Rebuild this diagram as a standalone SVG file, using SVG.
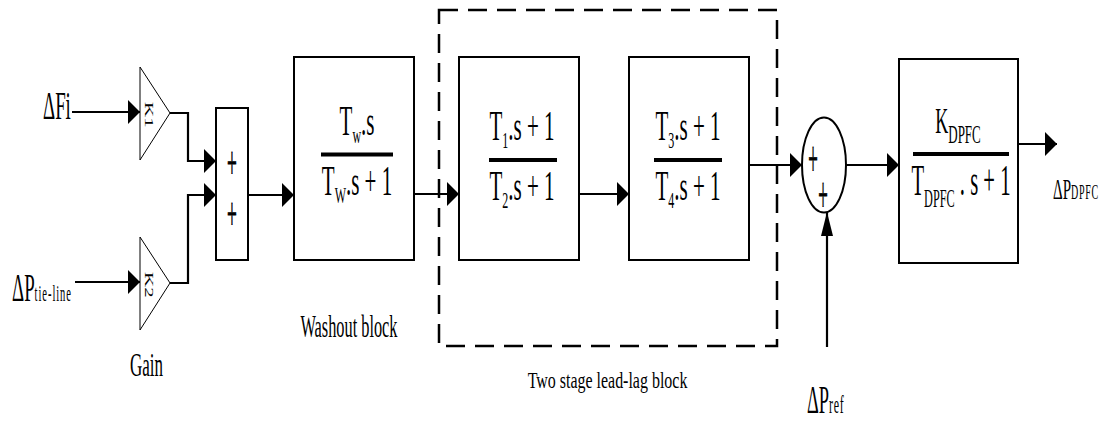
<svg xmlns="http://www.w3.org/2000/svg" width="1107" height="423" viewBox="0 0 1107 423">
  <style>
    .blk { fill: #fff; stroke: #000; stroke-width: 2; }
    .gain { fill: #fff; stroke: #000; stroke-width: 1; }
    .wire { fill: none; stroke: #000; stroke-width: 2.2; }
    .frame { fill: none; stroke: #000; stroke-width: 2.5; stroke-dasharray: 19 10; }
    .bar { fill: #000; }
    text { font-family: "Liberation Serif", "Times New Roman", serif; fill: #000; }
    .mid { text-anchor: middle; }
    .sign { text-anchor: middle; stroke: #000; stroke-width: 0.8; opacity: 0.99; }
  </style>
  <defs>
    <marker id="ah" markerUnits="userSpaceOnUse" markerWidth="12" markerHeight="24" refX="12" refY="12" orient="auto">
      <path d="M0,0 L12,12 L0,24 Z" fill="#000"/>
    </marker>
    <marker id="av" markerUnits="userSpaceOnUse" markerWidth="24" markerHeight="12" refX="24" refY="6" orient="auto">
      <path d="M0,0 L24,6 L0,12 Z" fill="#000"/>
    </marker>
  </defs>

  <rect width="1107" height="423" fill="#fff"/>

  <!-- dashed frame around the two lead-lag stages -->
  <rect id="leadlag-frame" class="frame" x="439" y="10" width="338" height="336"/>

  <!-- inputs -->
  <g id="in-df">
    <text transform="translate(43,119) scale(0.46,1)" font-size="41">ΔFi</text>
  </g>
  <g id="in-ptie">
    <text transform="translate(12,301) scale(0.46,1)" font-size="41">ΔP<tspan font-size="23" letter-spacing="2">tie-line</tspan></text>
  </g>

  <!-- gains -->
  <g id="gain-k1">
    <polygon class="gain" points="140,67 140,160 170,113"/>
    <text transform="translate(145,102) scale(0.55,1) rotate(90)" font-size="21">K1</text>
  </g>
  <g id="gain-k2">
    <polygon class="gain" points="140,237 140,330 170,283"/>
    <text transform="translate(145,272) scale(0.55,1) rotate(90)" font-size="21">K2</text>
  </g>
  <g id="gain-label">
    <text class="mid" transform="translate(146.5,376) scale(0.5,1)" font-size="34">Gain</text>
  </g>

  <!-- summer -->
  <g id="sum1">
    <rect class="blk" x="216" y="108" width="32" height="152"/>
    <text class="sign" transform="translate(232,178) scale(0.38,1)" font-size="46">+</text>
    <text class="sign" transform="translate(232,229) scale(0.38,1)" font-size="46">+</text>
  </g>

  <!-- washout -->
  <g id="washout">
    <rect class="blk" x="294" y="57" width="120" height="203"/>
    <text class="mid" transform="translate(357,135) scale(0.5,1)" font-size="42">T<tspan font-size="24" dy="8">w</tspan><tspan dy="-8">.s</tspan></text>
    <rect class="bar" x="321" y="152.5" width="72" height="4"/>
    <text class="mid" transform="translate(357,195) scale(0.5,1)" font-size="42">T<tspan font-size="24" dy="8">W</tspan><tspan dy="-8">.s + 1</tspan></text>
    <text class="mid" transform="translate(349,337) scale(0.51,1)" font-size="32">Washout block</text>
  </g>

  <!-- lead-lag stage 1 -->
  <g id="leadlag1">
    <rect class="blk" x="459" y="57" width="120" height="203"/>
    <text class="mid" transform="translate(522,140) scale(0.5,1)" font-size="42">T<tspan font-size="24" dy="8">1</tspan><tspan dy="-8">.s + 1</tspan></text>
    <rect class="bar" x="489" y="158" width="68" height="4"/>
    <text class="mid" transform="translate(522,200) scale(0.5,1)" font-size="42">T<tspan font-size="24" dy="8">2</tspan><tspan dy="-8">.s + 1</tspan></text>
  </g>

  <!-- lead-lag stage 2 -->
  <g id="leadlag2">
    <rect class="blk" x="629" y="57" width="120" height="203"/>
    <text class="mid" transform="translate(688,140) scale(0.5,1)" font-size="42">T<tspan font-size="24" dy="8">3</tspan><tspan dy="-8">.s + 1</tspan></text>
    <rect class="bar" x="654" y="158" width="68" height="4"/>
    <text class="mid" transform="translate(688,200) scale(0.5,1)" font-size="42">T<tspan font-size="24" dy="8">4</tspan><tspan dy="-8">.s + 1</tspan></text>
  </g>
  <g id="leadlag-label">
    <text class="mid" transform="translate(607.5,388) scale(0.665,1)" font-size="24">Two stage lead-lag block</text>
  </g>

  <!-- summing junction with reference -->
  <g id="sum2">
    <ellipse class="blk" cx="824" cy="165" rx="22" ry="47.5"/>
    <text class="sign" transform="translate(813,176) scale(0.34,1)" font-size="50">+</text>
    <text class="sign" transform="translate(823,212) scale(0.34,1)" font-size="50">+</text>
  </g>
  <g id="in-pref">
    <text transform="translate(807,413) scale(0.46,1)" font-size="40">ΔP<tspan font-size="26" letter-spacing="1.5">ref</tspan></text>
  </g>

  <!-- DPFC block -->
  <g id="dpfc">
    <rect class="blk" x="899" y="59" width="119" height="204"/>
    <text class="mid" transform="translate(958,133) scale(0.5,1)" font-size="36">K<tspan font-size="26" dy="10">DPFC</tspan></text>
    <rect class="bar" x="913" y="152" width="96" height="4"/>
    <text class="mid" transform="translate(961,195) scale(0.47,1)" font-size="44">T<tspan font-size="26" dy="12">DPFC</tspan><tspan dy="-12"> . s + 1</tspan></text>
  </g>
  <g id="out-pdpfc">
    <text transform="translate(1053,199) scale(0.5,1)" font-size="30">ΔP<tspan font-size="20" letter-spacing="1.5">DPFC</tspan></text>
  </g>

  <!-- connectors -->
  <g id="connectors" class="wire">
    <path d="M72,112 H140" marker-end="url(#ah)"/>
    <path d="M75,282 H140" marker-end="url(#ah)"/>
    <path d="M170,113 H188 V161 H216" marker-end="url(#ah)"/>
    <path d="M170,283 H188 V195 H216" marker-end="url(#ah)"/>
    <path d="M248,195 H294" marker-end="url(#ah)"/>
    <path d="M414,194 H459" marker-end="url(#ah)"/>
    <path d="M579,194 H629" marker-end="url(#ah)"/>
    <path d="M749,165 H802" marker-end="url(#ah)"/>
    <path d="M846,165 H899" marker-end="url(#ah)"/>
    <path d="M827,347 V212" marker-end="url(#av)"/>
    <path d="M1018,144 H1057" marker-end="url(#ah)"/>
  </g>
</svg>
